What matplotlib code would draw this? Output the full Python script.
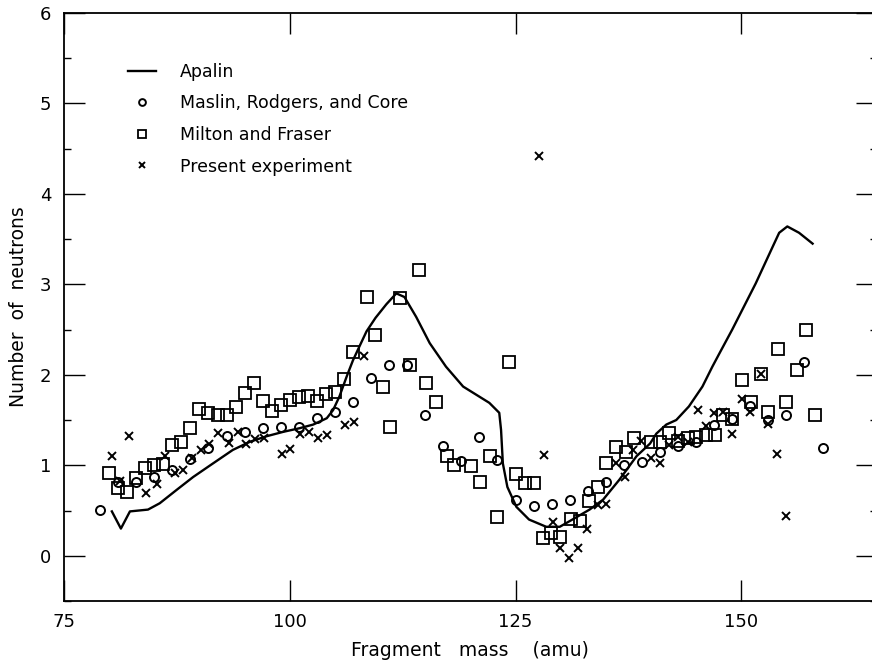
import matplotlib
matplotlib.use('Agg')
import matplotlib.pyplot as plt
from matplotlib.ticker import MultipleLocator

# Curva teorica (Apalin)
apalin_masa = [80.3, 81.3, 82.3, 84.3, 85.6, 87.5, 89.3, 91.2, 93.7, 95.6, 97.4, 99.3,
               101.1, 102.6, 104.1, 104.8, 105.5, 106.3, 107.0, 107.7, 108.5, 109.5,
               110.7, 111.8, 112.7, 114.0, 115.5, 117.3, 119.2, 122.1, 123.2, 123.4,
               123.6, 124.1, 125.1, 126.5, 128.4, 129.9, 131.3, 133.2, 134.7, 136.5,
               138.4, 139.9, 140.6, 141.7, 142.8, 144.2, 145.7, 146.8, 147.6, 149.0,
               151.6, 153.5, 154.2, 155.1, 156.4, 157.9]
apalin_nu = [0.49, 0.30, 0.49, 0.51, 0.58, 0.73, 0.87, 1.00, 1.17, 1.26, 1.32, 1.37,
             1.41, 1.45, 1.52, 1.61, 1.76, 1.98, 2.16, 2.31, 2.48, 2.63,
             2.78, 2.90, 2.86, 2.64, 2.35, 2.09, 1.87, 1.69, 1.58, 1.39,
             1.02, 0.76, 0.54, 0.40, 0.32, 0.32, 0.40, 0.51, 0.62, 0.84,
             1.10, 1.24, 1.35, 1.45, 1.50, 1.65, 1.87, 2.09, 2.24, 2.50,
             3.01, 3.42, 3.57, 3.64, 3.57, 3.45]

# Maslin, Rodgers y Core (circulos)
maslin_masa = [79, 81, 83, 85, 87, 89, 91, 93, 95, 97, 99, 101, 103, 105, 107, 109, 111,
               113, 115, 117, 119, 121, 123, 125, 127, 129, 131, 133, 135, 137, 139, 141,
               143, 145, 147, 149, 151, 153, 155, 157, 159]
maslin_nu = [0.51, 0.82, 0.82, 0.87, 0.95, 1.07, 1.19, 1.32, 1.37, 1.41, 1.42, 1.42, 1.52,
             1.59, 1.70, 1.97, 2.11, 2.11, 1.56, 1.21, 1.05, 1.31, 1.06, 0.62, 0.55, 0.57,
             0.62, 0.72, 0.81, 1.00, 1.04, 1.15, 1.21, 1.26, 1.45, 1.51, 1.66, 1.50, 1.56,
             2.14, 1.19]

# Milton y Fraser (cuadrados)
milton_masa = [80, 81, 82, 83, 84, 85, 86, 87, 88, 89, 90, 91, 92, 93, 94, 95, 96, 97, 98,
               99, 100, 101, 102, 103, 104, 105, 106, 107, 108.5, 109.4, 110.3, 111.1,
               112.2, 113.3, 114.3, 115.1, 116.2, 117.4, 118.2, 120.1, 121.1, 122.2, 123.0,
               124.3, 125.1, 126.0, 127.0, 128.0, 128.9, 129.9, 131.1, 132.1, 133.1, 134.1,
               135.0, 136.1, 137.2, 138.1, 140.0, 141.0, 142.0, 143.0, 144.1, 145.0, 146.1,
               147.1, 148.0, 149.0, 150.1, 151.1, 152.2, 153.0, 154.1, 155.0, 156.2, 157.2,
               158.2]
milton_nu = [0.91, 0.75, 0.70, 0.86, 0.97, 1.00, 1.01, 1.22, 1.26, 1.41, 1.62, 1.58, 1.56,
             1.56, 1.64, 1.80, 1.91, 1.71, 1.60, 1.67, 1.72, 1.76, 1.77, 1.71, 1.79, 1.81,
             1.95, 2.25, 2.86, 2.44, 1.87, 1.42, 2.85, 2.11, 3.16, 1.91, 1.70, 1.10, 1.00,
             0.99, 0.81, 1.10, 0.43, 2.14, 0.90, 0.80, 0.80, 0.20, 0.25, 0.21, 0.41, 0.38,
             0.60, 0.76, 1.02, 1.20, 1.15, 1.30, 1.26, 1.26, 1.36, 1.27, 1.30, 1.31, 1.34,
             1.34, 1.56, 1.51, 1.94, 1.70, 2.01, 1.59, 2.29, 1.70, 2.05, 2.50, 1.56]

# Presente experimento (cruces)
presente_masa = [80.3, 81.2, 82.2, 84.1, 85.3, 86.2, 87.3, 88.2, 89.2, 90.2, 91.1, 92.1,
                 93.3, 94.3, 95.2, 96.2, 97.2, 99.1, 100.0, 101.1, 102.1, 103.1, 104.1,
                 106.1, 107.1, 108.2, 127.6, 128.1, 129.1, 129.9, 130.9, 131.9, 132.9,
                 134.1, 135.0, 136.1, 137.1, 138.0, 138.9, 140.0, 141.0, 142.0, 143.0,
                 144.1, 145.2, 146.1, 147.0, 148.0, 149.0, 150.1, 151.0, 152.2, 153.0,
                 154.0, 155.0]
presente_nu = [1.10, 0.83, 1.32, 0.69, 0.79, 1.10, 0.92, 0.95, 1.08, 1.17, 1.24, 1.36,
               1.25, 1.37, 1.24, 1.29, 1.30, 1.13, 1.18, 1.35, 1.37, 1.30, 1.34,
               1.45, 1.48, 2.21, 4.42, 1.11, 0.37, 0.09, -0.03, 0.09, 0.29,
               0.56, 0.57, 1.03, 0.87, 1.17, 1.27, 1.08, 1.02, 1.22, 1.31,
               1.26, 1.61, 1.43, 1.58, 1.59, 1.35, 1.73, 1.59, 2.01, 1.46,
               1.13, 0.44]

plt.rcParams['font.family'] = ['DejaVu Sans']

fig = plt.figure(figsize=(8.72, 6.67), dpi=100)
ax = fig.add_axes([0.0734, 0.099, 0.932, 0.8816])

ax.plot(apalin_masa, apalin_nu, color='black', lw=1.7, label='Apalin')
ax.plot(maslin_masa, maslin_nu, ls='none', marker='o', ms=6.5, mfc='none', mec='black',
        mew=1.4, label='Maslin, Rodgers, and Core')
ax.plot(milton_masa, milton_nu, ls='none', marker='s', ms=8.5, mfc='none', mec='black',
        mew=1.3, label='Milton and Fraser')
ax.plot(presente_masa, presente_nu, ls='none', marker='x', ms=5.5, mec='black',
        mew=1.4, label='Present experiment')

ax.set_xlim(75, 165)
ax.set_ylim(-0.5, 6)
ax.set_xticks([75, 100, 125, 150])
ax.set_yticks([0, 1, 2, 3, 4, 5, 6])
ax.yaxis.set_minor_locator(MultipleLocator(0.5))
ax.tick_params(which='major', direction='in', length=15, width=1, top=True, right=True,
               labelsize=13, pad=9)
ax.tick_params(which='minor', direction='in', length=5, width=1, left=True, right=True)
for s in ax.spines.values():
    s.set_linewidth(1.3)

ax.set_xlabel('Fragment   mass    (amu)', fontsize=13.5, labelpad=7)
ax.set_ylabel('Number  of  neutrons', fontsize=13.5, labelpad=9)

ax.legend(loc='upper left', bbox_to_anchor=(0.079, 0.915), frameon=False, fontsize=12.5,
          borderpad=0, borderaxespad=0, handlelength=1.6, handletextpad=1.4,
          labelspacing=0.78, markerscale=0.75)

plt.savefig('out.png', dpi=100)
